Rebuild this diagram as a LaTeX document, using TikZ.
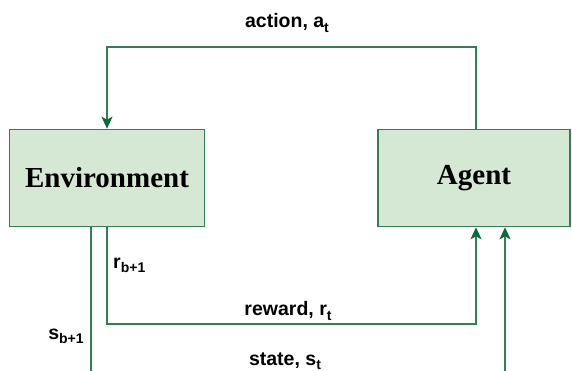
\documentclass[tikz,border=0pt]{standalone}
\usepackage{fontspec}
\setmainfont{Liberation Serif}
\newfontfamily\lsans{Liberation Sans}
\usetikzlibrary{arrows.meta}
\definecolor{linegreen}{RGB}{50,128,82}
\definecolor{arrowgreen}{RGB}{12,106,56}
\definecolor{boxfill}{HTML}{D5E8D4}
\newcommand\mysub[1]{\raisebox{-0.4ex}{\fontsize{14}{14}\selectfont #1}}
\tikzset{
  box/.style={draw=linegreen, fill=boxfill, line width=1.6pt, minimum height=97pt,
    font=\fontsize{29}{29}\selectfont\bfseries, inner sep=0pt},
  wire/.style={draw=linegreen, line width=1.6pt},
  flow/.style={wire, -{Stealth[length=12pt,width=11pt,inset=3pt,color=arrowgreen]}},
  lbl/.style={font=\lsans\bfseries\fontsize{19.5}{19.5}\selectfont, inner sep=0pt}
}
\begin{document}
\begin{tikzpicture}[x=1pt,y=-1pt]
\useasboundingbox (0,0) rectangle (572,371);
\node[box, minimum width=195pt] (env) at (107,178) {Environment};
\node[box, minimum width=192pt] (agent) at (474,178) {Agent};
\coordinate (tl) at (107,47);
\coordinate (tr) at (476,47);
\coordinate (rl) at (107,324);
\coordinate (rr) at (476,324);
\coordinate (sl) at (91,371);
\coordinate (sr) at (505,371);
\draw[flow] (agent.north -| tr) -- (tr) -- (tl) -- (env.north -| tl);
\draw[flow] (env.south -| rl) -- (rl) -- (rr) -- (agent.south -| rr);
\draw[wire] (env.south -| sl) -- (sl);
\draw[flow] (sr) -- (agent.south -| sr);
\node[lbl] (la) at (287,23) {action, a\mysub{t}};
\node[lbl] (lr) at (288,311) {reward, r\mysub{t}};
\node[lbl] (ls) at (285,361) {state, s\mysub{t}};
\node[lbl, anchor=west] (lrb) at (113,265) {r\mysub{b+1}};
\node[lbl] (lsb) at (66,336) {s\mysub{b+1}};
\end{tikzpicture}
\end{document}
